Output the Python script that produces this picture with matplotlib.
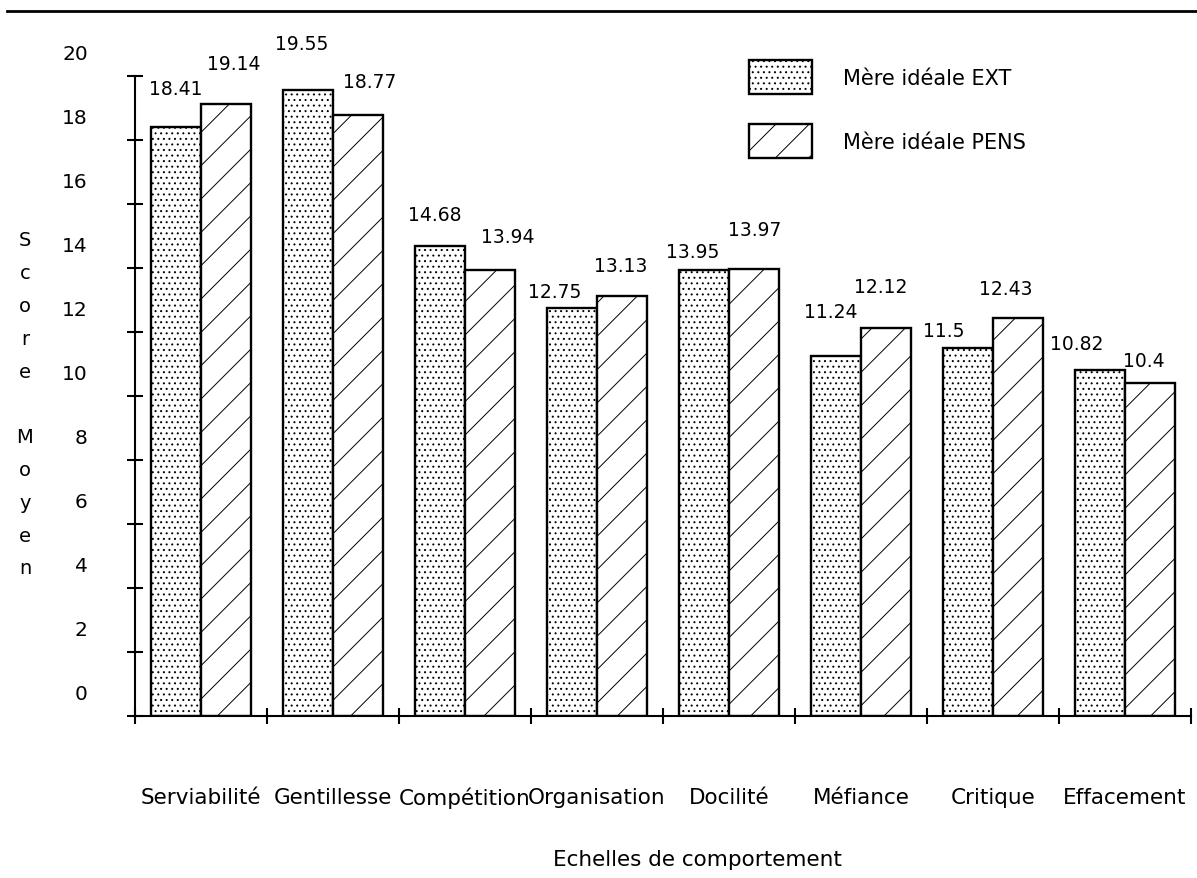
"""
Scores moyens par échelle de comportement : Mère idéale EXT vs PENS
"""

import matplotlib
matplotlib.use("Agg")

import matplotlib.pyplot as plt
import numpy as np
from matplotlib.lines import Line2D
from matplotlib.transforms import ScaledTranslation

# ============================================================
# Data
# ============================================================

categories = [
    "Serviabilité", "Gentillesse", "Compétition", "Organisation",
    "Docilité", "Méfiance", "Critique", "Effacement",
]

ext_scores = [18.41, 19.55, 14.68, 12.75, 13.95, 11.24, 11.5, 10.82]
pens_scores = [19.14, 18.77, 13.94, 13.13, 13.97, 12.12, 12.43, 10.4]

series_names = ["Mère idéale EXT", "Mère idéale PENS"]

y_ticks = [0, 2, 4, 6, 8, 10, 12, 14, 16, 18, 20]

# value label nudges in pixels (dx, height of baseline above bar top)
ext_label_nudge = [(0, 33), (-6, 41), (-5, 26), (-17, 11),
                   (-11, 13), (-5, 39), (-24, 12), (-23, 21)]
pens_label_nudge = [(8, 35), (12, 28), (18, 28), (-1, 25),
                    (1, 34), (-5, 36), (-12, 24), (-6, 17)]

# ============================================================
# Style
# ============================================================

W, H = 1197, 879
PX = 0.72  # points per pixel at dpi 100

plt.rcParams["font.family"] = ["DejaVu Sans"]
plt.rcParams["hatch.linewidth"] = 0.7
plt.rcParams["hatch.color"] = "black"

fig = plt.figure(figsize=(W / 100, H / 100), dpi=100)
ax = fig.add_axes([135 / W, 162 / H, 1056 / W, 640 / H])

# ============================================================
# Bars
# ============================================================

centers = np.arange(len(categories)) + 0.5
bar_w = 0.38

bars_ext = ax.bar(
    centers - bar_w, ext_scores, bar_w, align="edge",
    facecolor="white", edgecolor="black", hatch="...", linewidth=1.7,
)
bars_pens = ax.bar(
    centers, pens_scores, bar_w, align="edge",
    facecolor="white", edgecolor="black", hatch="/", linewidth=1.7,
)

for xc, vals, nudges in [(centers - bar_w / 2, ext_scores, ext_label_nudge),
                         (centers + bar_w / 2, pens_scores, pens_label_nudge)]:
    for x, v, (dx, dy) in zip(xc, vals, nudges):
        ax.annotate(
            f"{v:g}", xy=(x, v), xytext=(dx * PX, dy * PX),
            textcoords="offset points", ha="center", va="baseline",
            fontsize=13.5,
        )

# ============================================================
# Axes
# ============================================================

ax.set_xlim(0, len(categories))
ax.set_ylim(0, 20)

for side in ["top", "right"]:
    ax.spines[side].set_visible(False)
for side in ["left", "bottom"]:
    ax.spines[side].set_linewidth(1.5)

ax.set_xticks(np.arange(len(categories) + 1))
ax.set_xticklabels([])
ax.tick_params(axis="x", which="major", direction="inout",
               length=11, width=1.5)

ax.set_xticks(centers, categories, minor=True)
ax.tick_params(axis="x", which="minor", length=0, pad=51, labelsize=15.5)

ax.set_yticks(y_ticks)
ax.set_yticklabels([str(t) for t in y_ticks])
ax.tick_params(axis="y", direction="inout", length=12, width=1.5,
               pad=28, labelsize=14.5)

# tick labels sit a bit above their ticks, as in the original
shift = ScaledTranslation(0, 0.24, fig.dpi_scale_trans)
for label in ax.get_yticklabels():
    label.set_transform(label.get_transform() + shift)

# stacked y label and x title
fig.text(25 / W, 1 - 405 / H, "\n".join("Score Moyen"),
         ha="center", va="center", fontsize=14, linespacing=1.92)
fig.text(697 / W, 1 - 860 / H, "Echelles de comportement",
         ha="center", va="center", fontsize=15.5)

# top rule
fig.add_artist(Line2D([0.006, 1.0], [1 - 12 / H] * 2,
                      transform=fig.transFigure, color="black", lw=2.0))

# ============================================================
# Legend
# ============================================================

ax.legend(
    [bars_ext, bars_pens], series_names,
    loc="upper left", bbox_to_anchor=(749 / W, 1 - 61 / H),
    bbox_transform=fig.transFigure, frameon=False,
    borderpad=0, borderaxespad=0, fontsize=15,
    handlelength=3.0, handleheight=2.14, handletextpad=1.5,
    labelspacing=1.45,
)

fig.savefig("out.png", dpi=100)
